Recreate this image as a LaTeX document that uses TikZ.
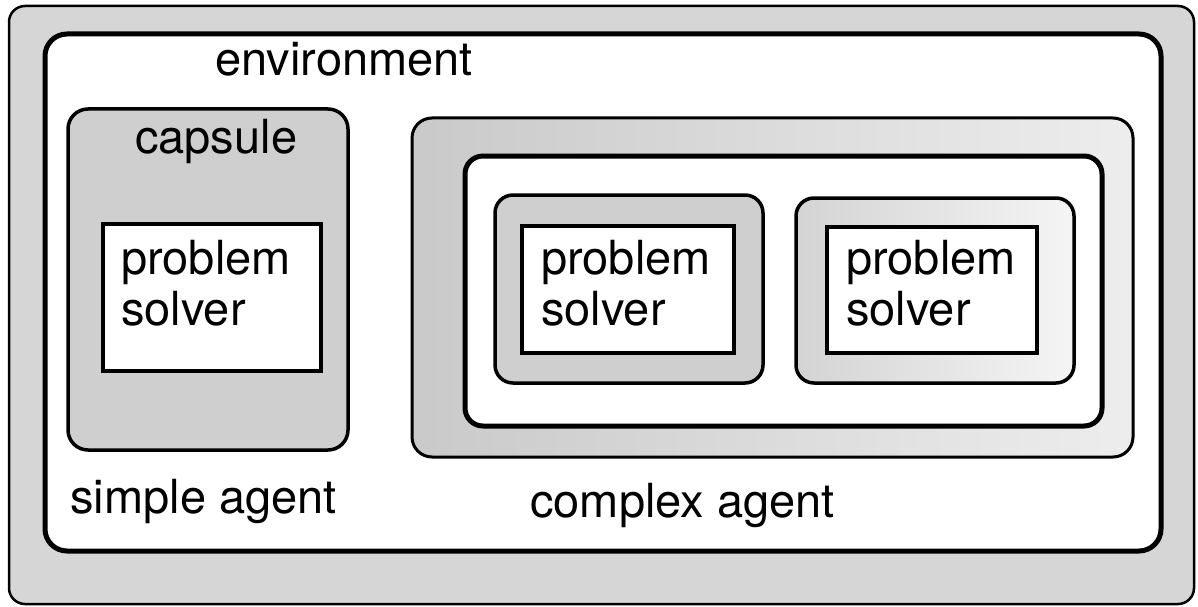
\documentclass[tikz,border=0pt]{standalone}
\usepackage{fontspec}
\setmainfont{TeX Gyre Heros}
\begin{document}
\begin{tikzpicture}[x=1pt,y=-1pt,
  frame/.style={draw=black, rounded corners=#1},
  lbl/.style={anchor=base west, inner sep=0pt, font=\fontsize{47}{51}\selectfont},
  pslbl/.style={anchor=north west, inner sep=0pt, align=left,
    font=\fontsize{47}{51}\selectfont},
  grain/.style={fill=black!19},
  solverbox/.style={draw=black, fill=white, line width=4pt}
]
\useasboundingbox (0,0) rectangle (1198,607);

% outermost shaded frame
\path[frame=16pt, fill=black!16, line width=2.5pt] (9,6) rectangle (1194,604);
% environment
\path[frame=22pt, fill=white, line width=5pt] (45,34) rectangle (1161,551);
\node[lbl] (env) at (215,76) {environment};

% simple agent: capsule around one problem solver
\path[frame=20pt, grain, line width=3.5pt] (68,109) rectangle (348,450);
\node[lbl] (cap) at (135,153) {capsule};
\path[solverbox] (103,224) rectangle (321,371);
\node[pslbl] (ps0) at (121,240) {problem\\solver};
\node[lbl] (simple) at (70,513) {simple agent};

% complex agent
\shade[left color=black!21, right color=black!7, draw=black,
  rounded corners=20pt, line width=3pt] (412,118) rectangle (1133,457);
\path[frame=18pt, fill=white, line width=5pt] (465,156) rectangle (1102,426);
\path[frame=18pt, grain, line width=3.5pt] (495,195) rectangle (763,383);
\path[solverbox] (522,226) rectangle (734,353);
\node[pslbl] (ps1) at (541,240) {problem\\solver};
\shade[left color=black!17, right color=black!4, draw=black,
  rounded corners=18pt, line width=3.5pt] (796,198) rectangle (1074,383);
\path[solverbox] (827,227) rectangle (1037,353);
\node[pslbl] (ps2) at (846,240) {problem\\solver};
\node[lbl] (complex) at (530,517) {complex agent};
\end{tikzpicture}
\end{document}
